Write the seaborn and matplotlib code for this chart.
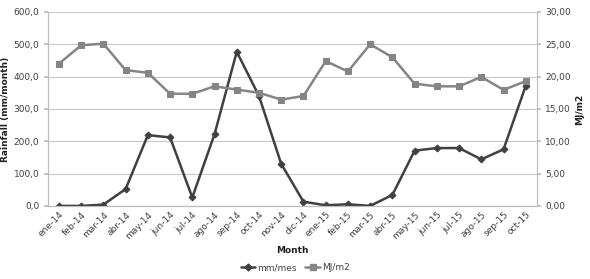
import pandas as pd
import seaborn as sns
import matplotlib
matplotlib.use("Agg")
import matplotlib.pyplot as plt
from matplotlib.ticker import FuncFormatter
from matplotlib.lines import Line2D

months = ["ene-14", "feb-14", "mar-14", "abr-14", "may-14", "jun-14", "jul-14",
          "ago-14", "sep-14", "oct-14", "nov-14", "dic-14", "ene-15", "feb-15",
          "mar-15", "abr-15", "may-15", "jun-15", "jul-15", "ago-15", "sep-15",
          "oct-15"]
rain = [0, 0, 4, 52, 219, 212, 26, 222, 477, 340, 130, 13, 2, 5, 0, 34,
        171, 179, 179, 144, 175, 372]
radiation = [22.0, 24.85, 25.1, 21.0, 20.6, 17.35, 17.35, 18.5, 18.0, 17.5,
             16.45, 17.0, 22.4, 20.8, 25.0, 23.0, 18.9, 18.5, 18.5, 19.95,
             17.95, 19.3]

rain_color = "#404040"
rad_color = "#858585"
tick_color = "#404040"


def comma(decimals):
    return FuncFormatter(lambda v, p: f"{v:.{decimals}f}".replace(".", ","))


def plot(df):
    sns.set_theme(style="white")
    plt.rcParams["font.family"] = ["DejaVu Sans"]
    fig, ax = plt.subplots(figsize=(5.9, 2.79), dpi=100)
    fig.subplots_adjust(left=0.081, right=0.910, bottom=0.262, top=0.957)
    ax2 = ax.twinx()

    sns.lineplot(data=df, x="month", y="rain", ax=ax, color=rain_color,
                 marker="D", markersize=3.5, markeredgecolor=rain_color,
                 linewidth=1.8, sort=False, zorder=3)
    sns.lineplot(data=df, x="month", y="radiation", ax=ax2, color=rad_color,
                 marker="s", markersize=5, markeredgecolor=rad_color,
                 linewidth=1.8, sort=False, zorder=3)

    ax.set_xlim(-0.5, len(months) - 0.5)
    ax.set_ylim(0, 600)
    ax2.set_ylim(0, 30)
    ax.set_yticks(range(0, 601, 100))
    ax2.set_yticks(range(0, 31, 5))
    ax.yaxis.set_major_formatter(comma(1))
    ax2.yaxis.set_major_formatter(comma(2))
    ax.yaxis.grid(True, color="#c8c8c8", linewidth=0.8)
    ax.set_axisbelow(True)

    ax.set_xlabel("Month", fontsize=6.5, fontweight="bold", color="#202020")
    ax.set_ylabel("Rainfall (mm/month)", fontsize=6.5, fontweight="bold",
                  color="#202020", labelpad=3)
    ax2.set_ylabel("MJ/m2", fontsize=6.5, fontweight="bold", color="#202020",
                   labelpad=3)

    for a in (ax, ax2):
        a.tick_params(axis="both", labelsize=6.5, colors=tick_color, length=0, pad=3)
        for side, sp in a.spines.items():
            sp.set_color("#bdbdbd")
            sp.set_linewidth(0.8)
            sp.set_visible(side != "top")
    ax2.tick_params(axis="y", length=3, color="#bdbdbd", pad=3)
    ax.tick_params(axis="y", length=3, color="#bdbdbd")
    plt.setp(ax.get_xticklabels(), rotation=45, ha="right", rotation_mode="anchor")

    handles = [
        Line2D([], [], color=rain_color, marker="D", markersize=3.5, linewidth=1.8),
        Line2D([], [], color=rad_color, marker="s", markersize=5, linewidth=1.8),
    ]
    fig.legend(handles, ["mm/mes", "MJ/m2"], loc="center", ncol=2,
               bbox_to_anchor=(0.5, 0.04), frameon=False, fontsize=6.5,
               handlelength=1.6, handletextpad=0.2, columnspacing=1.0,
               labelcolor=tick_color)
    fig.savefig("out.png", dpi=100)


def main():
    df = pd.DataFrame({"month": months, "rain": rain, "radiation": radiation})
    plot(df)


if __name__ == "__main__":
    main()
